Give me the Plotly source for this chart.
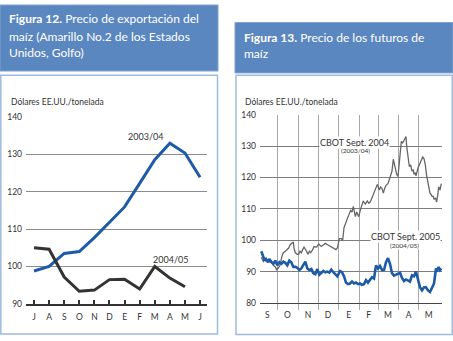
import plotly.graph_objects as go

# ---------------- Data: Figura 12 (monthly export price) ----------------
months = ["J", "A", "S", "O", "N", "D", "E", "F", "M", "A", "M", "J"]
exp_2003_04 = [98.8, 100.0, 103.5, 104.0, 107.7, 111.8, 115.9, 122.2, 128.5, 132.9, 130.3, 123.8]
exp_2004_05 = [105.0, 104.6, 97.2, 93.4, 93.7, 96.5, 96.6, 94.0, 100.0, 96.9, 94.6]

# ---------------- Data: Figura 13 (futures prices) ----------------
fut_months = ["S", "O", "N", "D", "E", "F", "M", "A", "M"]
fut_month_mid = ["2004-09-16", "2004-10-16", "2004-11-16", "2004-12-16", "2005-01-16",
                 "2005-02-15", "2005-03-16", "2005-04-16", "2005-05-16"]
fut_month_start = ["2004-10-01", "2004-11-01", "2004-12-01", "2005-01-01",
                   "2005-02-01", "2005-03-01", "2005-04-01", "2005-05-01"]

sep2004_dates = [
    "2004-09-07", "2004-09-10", "2004-09-13", "2004-09-15", "2004-09-17", "2004-09-20", "2004-09-22",
    "2004-09-25", "2004-09-28", "2004-09-30", "2004-10-03", "2004-10-05", "2004-10-08", "2004-10-10",
    "2004-10-13", "2004-10-15", "2004-10-18", "2004-10-20", "2004-10-23", "2004-10-25", "2004-10-26",
    "2004-10-28", "2004-10-31", "2004-11-02", "2004-11-04", "2004-11-06", "2004-11-08", "2004-11-10",
    "2004-11-13", "2004-11-16", "2004-11-18", "2004-11-20", "2004-11-23", "2004-11-25", "2004-11-29",
    "2004-12-02", "2004-12-06", "2004-12-09", "2004-12-12", "2004-12-16", "2004-12-20", "2004-12-22",
    "2004-12-25", "2004-12-28", "2004-12-30", "2005-01-02", "2005-01-05", "2005-01-07", "2005-01-09",
    "2005-01-12", "2005-01-14", "2005-01-16", "2005-01-19", "2005-01-21", "2005-01-23", "2005-01-26",
    "2005-01-28", "2005-01-31", "2005-02-03", "2005-02-05", "2005-02-07", "2005-02-10", "2005-02-13",
    "2005-02-15", "2005-02-17", "2005-02-19", "2005-02-21", "2005-02-23", "2005-02-25", "2005-02-28",
    "2005-03-03", "2005-03-05", "2005-03-07", "2005-03-09", "2005-03-11", "2005-03-13", "2005-03-16",
    "2005-03-18", "2005-03-20", "2005-03-22", "2005-03-24", "2005-03-25", "2005-03-27", "2005-03-29",
    "2005-03-31", "2005-04-03", "2005-04-05", "2005-04-07", "2005-04-08", "2005-04-10", "2005-04-12",
    "2005-04-13", "2005-04-15", "2005-04-17", "2005-04-19", "2005-04-21", "2005-04-23", "2005-04-24",
    "2005-04-26", "2005-04-27", "2005-04-30", "2005-05-03", "2005-05-05", "2005-05-07", "2005-05-09",
    "2005-05-11", "2005-05-13", "2005-05-16", "2005-05-18", "2005-05-20", "2005-05-21", "2005-05-23",
    "2005-05-24", "2005-05-26", "2005-05-28", "2005-05-30", "2005-05-31", "2005-06-02", "2005-06-04",
]
sep2004_values = [
    94.6, 93.2, 94.0, 93.5, 93.8, 93.0, 93.6,
    92.0, 91.5, 90.6, 91.3, 92.0, 95.0, 96.0,
    96.5, 97.0, 97.5, 98.5, 99.2, 99.4, 97.5,
    96.0, 95.5, 95.5, 96.5, 96.0, 97.0, 97.8,
    96.8, 95.5, 96.5, 96.0, 97.0, 98.0, 97.8,
    98.8, 98.0, 98.5, 99.0, 98.5, 98.0, 97.8,
    97.2, 97.0, 97.5, 100.5, 100.5, 100.0, 104.0,
    106.0, 107.0, 108.0, 109.5, 109.0, 110.8, 107.5,
    109.0, 107.5, 110.0, 111.0, 112.5, 111.5, 112.5,
    111.8, 112.0, 113.0, 114.0, 115.0, 116.0, 117.8,
    116.0, 117.0, 116.5, 115.0, 116.5, 117.5, 118.0,
    119.5, 120.5, 122.0, 125.8, 125.0, 122.5, 121.0,
    120.3, 126.0, 131.5, 131.0, 131.5, 132.5, 133.0,
    130.0, 126.0, 123.5, 124.0, 122.0, 122.5, 121.0,
    121.5, 120.5, 123.0, 124.5, 125.5, 126.5, 126.0,
    124.0, 120.5, 116.5, 115.0, 114.5, 114.0, 114.0,
    113.0, 113.5, 112.2, 115.0, 117.0, 116.0, 118.0,
]

sep2005_dates = [
    "2004-09-07", "2004-09-09", "2004-09-12", "2004-09-14", "2004-09-17", "2004-09-19", "2004-09-22",
    "2004-09-25", "2004-09-28", "2004-10-01", "2004-10-04", "2004-10-07", "2004-10-10", "2004-10-13",
    "2004-10-16", "2004-10-19", "2004-10-22", "2004-10-25", "2004-10-28", "2004-10-31", "2004-11-03",
    "2004-11-06", "2004-11-09", "2004-11-12", "2004-11-15", "2004-11-18", "2004-11-21", "2004-11-24",
    "2004-11-27", "2004-11-30", "2004-12-03", "2004-12-06", "2004-12-09", "2004-12-12", "2004-12-15",
    "2004-12-18", "2004-12-21", "2004-12-24", "2004-12-27", "2004-12-30", "2005-01-03", "2005-01-06",
    "2005-01-09", "2005-01-12", "2005-01-15", "2005-01-18", "2005-01-21", "2005-01-24", "2005-01-27",
    "2005-01-30", "2005-02-02", "2005-02-05", "2005-02-08", "2005-02-11", "2005-02-14", "2005-02-17",
    "2005-02-20", "2005-02-23", "2005-02-26", "2005-03-01", "2005-03-04", "2005-03-07", "2005-03-10",
    "2005-03-13", "2005-03-16", "2005-03-19", "2005-03-22", "2005-03-25", "2005-03-28", "2005-03-31",
    "2005-04-03", "2005-04-06", "2005-04-09", "2005-04-12", "2005-04-15", "2005-04-18", "2005-04-21",
    "2005-04-24", "2005-04-27", "2005-04-30", "2005-05-03", "2005-05-06", "2005-05-09", "2005-05-12",
    "2005-05-15", "2005-05-18", "2005-05-21", "2005-05-24", "2005-05-27", "2005-05-29", "2005-05-31",
    "2005-06-02", "2005-06-04",
]
sep2005_values = [
    96.5, 95.0, 93.5, 94.0, 93.0, 94.0, 93.0,
    92.5, 93.5, 92.0, 93.0, 92.5, 93.2, 92.8,
    92.0, 93.5, 93.0, 91.5, 91.5, 91.2, 90.5,
    91.0, 92.0, 93.2, 91.0, 90.5, 90.8, 89.5,
    89.2, 90.8, 89.0, 89.5, 90.2, 89.8, 90.0,
    89.7, 90.6, 89.8, 89.3, 88.5, 90.2, 89.8,
    88.5, 86.5, 86.0, 86.2, 86.8, 86.2, 86.5,
    86.0, 86.2, 85.8, 86.0, 87.3, 86.5, 87.2,
    88.2, 87.8, 92.0, 91.0, 91.8, 90.5, 90.5,
    93.0, 94.3, 92.5, 89.5, 88.7, 89.0, 89.5,
    89.6, 88.0, 87.0, 87.5, 87.0, 86.8, 88.8,
    88.5, 90.0, 87.5, 85.0, 84.0, 85.0, 85.0,
    84.0, 83.5, 85.0, 86.2, 91.0, 90.5, 91.5,
    90.5, 91.0,
]

# ---------------- Styles ----------------
W, H = 453, 341
TITLE_BG = "#5b87c1"
FRAME = "#9fbbe0"
BLUE = "#1d5ba8"
DARK = "#333333"
TXT = "#333333"
FONT = "Lato"


def fx(x):
    return x / W


def fy(y):
    return 1 - y / H


fig = go.Figure()

# Figura 12 traces
fig.add_trace(go.Scatter(x=list(range(len(exp_2003_04))), y=exp_2003_04, mode="lines",
                         line=dict(color=BLUE, width=3), xaxis="x", yaxis="y", showlegend=False))
fig.add_trace(go.Scatter(x=list(range(len(exp_2004_05))), y=exp_2004_05, mode="lines",
                         line=dict(color=DARK, width=3), xaxis="x", yaxis="y", showlegend=False))

# Figura 13 traces
fig.add_trace(go.Scatter(x=sep2004_dates, y=sep2004_values, mode="lines",
                         line=dict(color="#666666", width=1.3), xaxis="x2", yaxis="y2", showlegend=False))
fig.add_trace(go.Scatter(x=sep2005_dates, y=sep2005_values, mode="lines",
                         line=dict(color=BLUE, width=2.6), xaxis="x2", yaxis="y2", showlegend=False))

tickfont = dict(family=FONT, size=8.5, color=TXT)

fig.update_layout(
    width=W, height=H, autosize=False,
    margin=dict(l=0, r=0, t=0, b=0),
    paper_bgcolor="white", plot_bgcolor="white",
    xaxis=dict(domain=[fx(26), fx(207)], range=[-0.53, 11.46],
               tickmode="array", tickvals=list(range(len(months))), ticktext=months,
               ticks="inside", ticklen=4, tickwidth=1.5, tickcolor=DARK,
               showline=True, linecolor=DARK, linewidth=1.5,
               showgrid=False, zeroline=False, tickfont=tickfont, anchor="y",
               ticklabelstandoff=4),
    yaxis=dict(domain=[fy(308), fy(115)], range=[90, 140], dtick=10, tick0=90,
               showgrid=True, gridcolor="#8c8c8c", gridwidth=1.2, zeroline=False,
               showline=False, ticks="", tickfont=tickfont, anchor="x",
               ticklabelstandoff=3),
    xaxis2=dict(domain=[fx(260), fx(442)], type="date",
                range=["2004-09-05", "2005-06-05"],
                tickmode="array", tickvals=fut_month_mid, ticktext=fut_months,
                ticks="", showgrid=False, zeroline=False,
                showline=True, linecolor="#444444", linewidth=1.3,
                minor=dict(tickmode="array", tickvals=fut_month_start, showgrid=True,
                           gridcolor="#a8a8a8", gridwidth=0.8, ticks="outside",
                           ticklen=6, tickcolor="#a8a8a8", tickwidth=0.8),
                tickfont=tickfont, anchor="y2", ticklabelstandoff=4),
    yaxis2=dict(domain=[fy(307), fy(113)], range=[80, 140], dtick=10, tick0=80,
                showgrid=True, gridcolor="#7d7d7d", gridwidth=1, zeroline=False,
                showline=False, ticks="", tickfont=tickfont, anchor="x2",
                ticklabelstandoff=3),
)

shapes = [
    # Title boxes
    dict(type="rect", xref="paper", yref="paper", x0=fx(0), x1=fx(218), y0=fy(68), y1=fy(0),
         fillcolor=TITLE_BG, line=dict(color="#7fa2d1", width=1), layer="below"),
    dict(type="rect", xref="paper", yref="paper", x0=fx(235), x1=fx(453), y0=fy(70), y1=fy(18),
         fillcolor=TITLE_BG, line=dict(color="#7fa2d1", width=1), layer="below"),
    # Content frames
    dict(type="rect", xref="paper", yref="paper", x0=fx(0.8), x1=fx(217.5), y0=fy(339), y1=fy(72.5),
         fillcolor="rgba(0,0,0,0)", line=dict(color=FRAME, width=1.5), layer="below"),
    dict(type="rect", xref="paper", yref="paper", x0=fx(236), x1=fx(452.2), y0=fy(339.5), y1=fy(72.5),
         fillcolor="rgba(0,0,0,0)", line=dict(color=FRAME, width=1.5), layer="below"),
]
fig.update_layout(shapes=shapes)

title_font = dict(family=FONT, size=12, color="white")
ann = []


def text(x, y, s, font, xanchor="left", bg=None, xref="paper", yref="paper"):
    d = dict(x=x, y=y, xref=xref, yref=yref, text=s, showarrow=False, font=font,
             xanchor=xanchor, yanchor="middle", borderpad=0)
    if bg:
        d["bgcolor"] = bg
    ann.append(d)


text(fx(8), fy(14), "<b>Figura 12.</b> Precio de exportación del", title_font)
text(fx(8), fy(32), "maíz (Amarillo No.2 de los Estados", title_font)
text(fx(8), fy(49), "Unidos, Golfo)", title_font)
text(fx(243), fy(33), "<b>Figura 13.</b> Precio de los futuros de", title_font)
text(fx(243), fy(50), "maíz", title_font)

unit_font = dict(family=FONT, size=8.5, color=TXT)
text(fx(10), fy(100), "Dólares EE.UU./tonelada", unit_font)
text(fx(244), fy(100), "Dólares EE.UU./tonelada", unit_font)

lab_font = dict(family=FONT, size=9, color=TXT)
text(7.4, 134.6, "2003/04", lab_font, xanchor="center", xref="x", yref="y")
text(9.07, 101.9, "2004/05", lab_font, xanchor="center", xref="x", yref="y")

text(fx(354), fy(142), "CBOT Sept. 2004", lab_font, xanchor="center", bg="white")
text(fx(355), fy(149.5), "(2003/04)", dict(family=FONT, size=6.5, color=TXT), xanchor="center", bg="white")
text(fx(405), fy(238), "CBOT Sept. 2005", lab_font, xanchor="center", bg="white")
text(fx(404), fy(247.5), "(2004/05)", dict(family=FONT, size=6.5, color=TXT), xanchor="center", bg="white")

fig.update_layout(annotations=ann)

fig.write_html("out.html", config={"displayModeBar": False},
               post_script="document.body.style.margin='0';document.body.style.overflow='hidden';")
